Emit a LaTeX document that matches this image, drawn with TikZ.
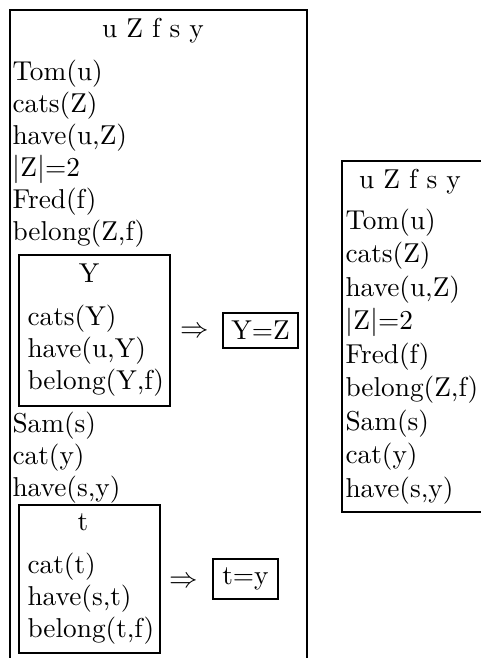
\documentclass[tikz,border=0pt]{standalone}
\usetikzlibrary{positioning}

\begin{document}
\begin{tikzpicture}[
  x=0.3846pt, y=-0.3846pt,
  every node/.style={font=\fontsize{10.5pt}{12pt}\selectfont},
  ln/.style={anchor=base west, inner sep=0pt},
  hd/.style={anchor=base, inner sep=0pt},
  bx/.style={draw, line width=0.95pt},
  eqbox/.style={draw, line width=0.95pt, inner sep=0pt},
  imp/.style={inner sep=0pt}
]
  \useasboundingbox (0,0) rectangle (481,658);
  \clip (0,0) rectangle (481,658);

  % left drs, runs off the bottom
  \draw[bx] (10,662) -- (10,10) -- (307,10) -- (307,662);
  \node[hd] (lhd) at (153,38) {u Z f s y};
  \node[ln] (ltom)  at (12,80)  {Tom(u)};
  \node[ln] (lcats) at (12,112) {cats(Z)};
  \node[ln] (lhave) at (12,144) {have(u,Z)};
  \node[ln] (lcard) at (12,176) {$|$Z$|$=2};
  \node[ln] (lfred) at (12,208) {Fred(f)};
  \node[ln] (lbel)  at (12,240) {belong(Z,f)};

  % condition box for Y
  \draw[bx] (19,255) rectangle (170,406);
  \node[hd] (yhd) at (89,282) {Y};
  \node[ln] (ycats) at (27,325) {cats(Y)};
  \node[ln] (yhave) at (27,357) {have(u,Y)};
  \node[ln] (ybel)  at (27,389) {belong(Y,f)};
  \node[imp] (yimp) at (195,332) {$\Rightarrow$};
  \node[eqbox, minimum width=28.85pt, minimum height=13.46pt] (yeq)
    at (260.5,330.5) {Y=Z};

  \node[ln] (lsam)   at (12,432) {Sam(s)};
  \node[ln] (lcat)   at (12,464) {cat(y)};
  \node[ln] (lhavey) at (12,496) {have(s,y)};

  % condition box for t
  \draw[bx] (19,505) rectangle (160,653);
  \node[hd] (thd) at (83,530) {t};
  \node[ln] (tcat)  at (27,573) {cat(t)};
  \node[ln] (thave) at (27,605) {have(s,t)};
  \node[ln] (tbel)  at (27,637) {belong(t,f)};
  \node[imp] (timp) at (184,582) {$\Rightarrow$};
  \node[eqbox, minimum width=25pt, minimum height=15.4pt] (teq)
    at (245.5,579) {t=y};

  % right drs, runs off the right side
  \draw[bx] (485,161) -- (342,161) -- (342,512) -- (485,512);
  \node[hd] (rhd) at (410,188) {u Z f s y};
  \node[ln] (rtom)   at (345,229)   {Tom(u)};
  \node[ln] (rcats)  at (345,262.5) {cats(Z)};
  \node[ln] (rhave)  at (345,296)   {have(u,Z)};
  \node[ln] (rcard)  at (345,329.5) {$|$Z$|$=2};
  \node[ln] (rfred)  at (345,363)   {Fred(f)};
  \node[ln] (rbel)   at (345,396.5) {belong(Z,f)};
  \node[ln] (rsam)   at (345,430)   {Sam(s)};
  \node[ln] (rcat)   at (345,463.5) {cat(y)};
  \node[ln] (rhavey) at (345,497)   {have(s,y)};
\end{tikzpicture}
\end{document}
